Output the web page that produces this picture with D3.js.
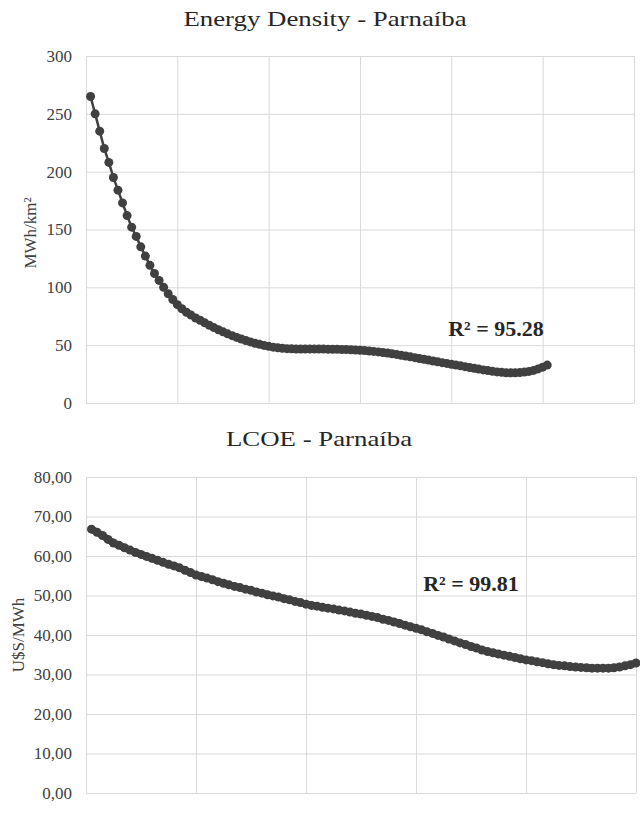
<!DOCTYPE html>
<html>
<head>
<meta charset="utf-8">
<script src="https://cdn.jsdelivr.net/npm/d3@7"></script>
<style>
  body { margin: 0; background: #fff; }
  svg { display: block; }
  .grid line, .grid path { stroke: #d9d9d9; stroke-width: 1; }
  .ticks text { font-family: 'Liberation Serif', 'Times New Roman', serif; font-size: 17px; fill: #404040; }
</style>
</head>
<body>
<div id="chart"></div>
<script>
// Energy density values (MWh/km2), one per point
var densityValues = [
  265, 250, 235, 220, 208, 195, 184, 173, 162, 152,
  144, 135, 127, 119, 112, 106, 100, 94.5, 89.5, 85,
  81.5, 78.5, 76, 73.5, 71.5, 69.3, 67.2, 65.2, 63.3, 61.5,
  59.8, 58.2, 56.7, 55.3, 54, 52.8, 51.7, 50.7, 49.8, 49,
  48.3, 47.7, 47.3, 47, 46.8, 46.7, 46.6, 46.6, 46.6, 46.6,
  46.6, 46.6, 46.5, 46.5, 46.4, 46.3, 46.2, 46, 45.8, 45.6,
  45.3, 45, 44.6, 44.2, 43.7, 43.2, 42.6, 42, 41.3, 40.6,
  39.9, 39.2, 38.5, 37.8, 37.1, 36.3, 35.6, 34.9, 34.2, 33.5,
  32.8, 32.1, 31.4, 30.7, 30, 29.3, 28.6, 28, 27.4, 26.9,
  26.5, 26.2, 26.1, 26.1, 26.3, 26.7, 27.3, 28.2, 29.5, 31,
  32.8
]

// LCOE values (U$S/MWh), one per point
var lcoeValues = [
  66.8, 66.0, 65.2, 64.2, 63.3, 62.7, 62.1, 61.5, 60.9, 60.4,
  59.9, 59.4, 58.9, 58.4, 57.9, 57.5, 57.0, 56.4, 55.8, 55.2,
  54.8, 54.4, 54.0, 53.5, 53.1, 52.7, 52.3, 52.0, 51.6, 51.3,
  50.9, 50.6, 50.2, 49.9, 49.6, 49.2, 48.9, 48.5, 48.2, 47.8,
  47.5, 47.3, 47.0, 46.8, 46.6, 46.3, 46.1, 45.8, 45.5, 45.3,
  45.0, 44.7, 44.4, 44.0, 43.7, 43.3, 42.9, 42.5, 42.1, 41.7,
  41.3, 40.8, 40.4, 39.9, 39.5, 39.0, 38.5, 38.0, 37.6, 37.1,
  36.7, 36.2, 35.8, 35.5, 35.2, 34.9, 34.6, 34.3, 34.0, 33.7,
  33.5, 33.2, 33.0, 32.7, 32.5, 32.3, 32.2, 32.0, 31.9, 31.8,
  31.7, 31.6, 31.6, 31.6, 31.6, 31.7, 31.9, 32.2, 32.5, 32.9
]

var densityTicks = [0, 50, 100, 150, 200, 250, 300]
var lcoeTicks = [0, 10, 20, 30, 40, 50, 60, 70, 80]
var densityXTicks = [0, 20, 40, 60, 80, 100, 120]
var lcoeXTicks = [0, 20, 40, 60, 80, 100]

var commaFormat = d3.formatLocale({ decimal: ',', thousands: '.', grouping: [3], currency: ['', ''] }).format('.2f')

var serif = "'Liberation Serif', 'Times New Roman', serif"

var svg = d3.select('#chart')
  .append('svg')
  .attr('width', 640)
  .attr('height', 814)

// draws one panel of the figure
function drawPanel (opts) {
  var x = d3.scaleLinear().domain(opts.xDomain).range([opts.left, opts.right])
  var y = d3.scaleLinear().domain(opts.yDomain).range([opts.bottom, opts.top])
  var w = opts.right - opts.left
  var h = opts.bottom - opts.top

  // horizontal gridlines + tick labels
  var yAxis = svg.append('g')
    .attr('class', 'grid ticks')
    .attr('transform', 'translate(' + opts.left + ',0)')
    .call(d3.axisLeft(y).tickValues(opts.yTicks).tickSize(-w).tickPadding(14).tickFormat(opts.fmt))
  yAxis.select('.domain').remove()

  // vertical gridlines, no labels
  var xAxis = svg.append('g')
    .attr('class', 'grid')
    .attr('transform', 'translate(0,' + opts.bottom + ')')
    .call(d3.axisBottom(x).tickValues(opts.xTicks).tickSize(-h).tickFormat(''))
  xAxis.select('.domain').remove()

  var pts = opts.values.map(function (v, i) { return [i + 1, v] })

  svg.append('path')
    .datum(pts)
    .attr('fill', 'none')
    .attr('stroke', '#404040')
    .attr('stroke-width', opts.lineWidth)
    .attr('stroke-linejoin', 'round')
    .attr('d', d3.line().x(function (d) { return x(d[0]) }).y(function (d) { return y(d[1]) }))

  svg.append('g').selectAll('circle')
    .data(pts)
    .enter()
    .append('circle')
    .attr('cx', function (d) { return x(d[0]) })
    .attr('cy', function (d) { return y(d[1]) })
    .attr('r', 4.5)
    .attr('fill', '#404040')

  // title (stretched a bit horizontally like the original)
  svg.append('text')
    .attr('transform', 'translate(' + opts.titleX + ',' + opts.titleY + ') scale(1.22,1)')
    .attr('text-anchor', 'middle')
    .style('font-family', serif)
    .style('font-size', '22px')
    .style('fill', '#262626')
    .text(opts.title)

  // y axis label
  svg.append('text')
    .attr('transform', 'translate(' + opts.labelX + ',' + opts.labelY + ') rotate(-90)')
    .attr('text-anchor', 'middle')
    .attr('dy', '0.35em')
    .style('font-family', serif)
    .style('font-size', '17px')
    .style('fill', '#404040')
    .text(opts.yLabel)

  // R squared note
  svg.append('text')
    .attr('x', opts.noteX)
    .attr('y', opts.noteY)
    .attr('text-anchor', 'middle')
    .style('font-family', serif)
    .style('font-size', '22px')
    .style('font-weight', 'bold')
    .style('fill', '#262626')
    .text(opts.note)
}

drawPanel({
  values: densityValues,
  xDomain: [0, 120], xTicks: densityXTicks,
  yDomain: [0, 300], yTicks: densityTicks,
  left: 86, right: 634, top: 56, bottom: 403,
  fmt: d3.format('d'), lineWidth: 2.5,
  title: 'Energy Density - Parnaíba', titleX: 325, titleY: 26,
  yLabel: 'MWh/km²', labelX: 30, labelY: 233,
  note: 'R² = 95.28', noteX: 496, noteY: 336
})

drawPanel({
  values: lcoeValues,
  xDomain: [0, 100], xTicks: lcoeXTicks,
  yDomain: [0, 80], yTicks: lcoeTicks,
  left: 86, right: 636, top: 477, bottom: 793,
  fmt: commaFormat, lineWidth: 7,
  title: 'LCOE - Parnaíba', titleX: 319, titleY: 446,
  yLabel: 'U$S/MWh', labelX: 18, labelY: 635,
  note: 'R² = 99.81', noteX: 471, noteY: 591
})
</script>
</body>
</html>
